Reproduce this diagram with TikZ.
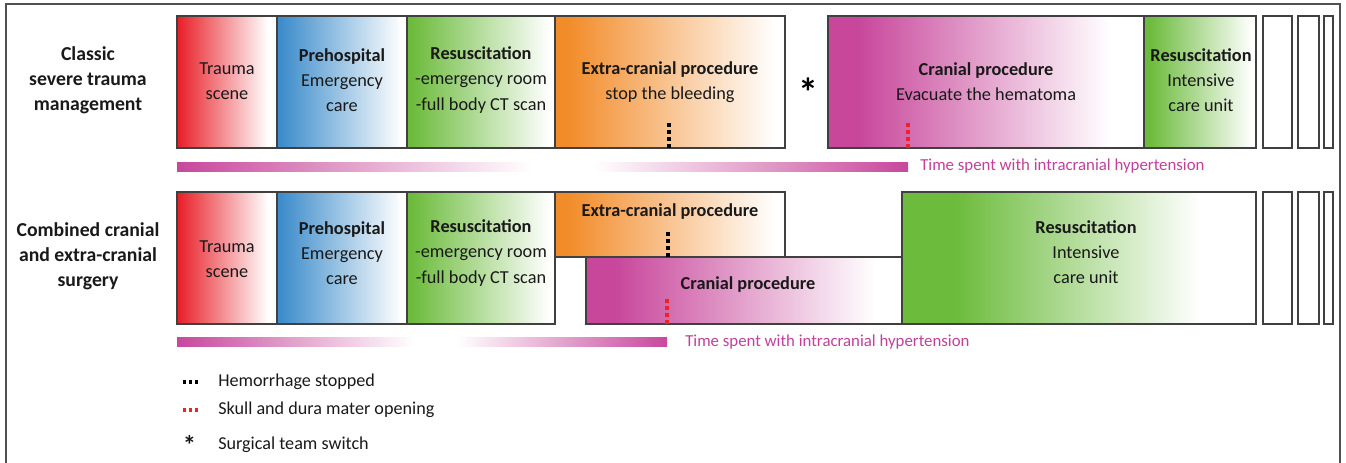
\documentclass[tikz,border=0pt]{standalone}
\usepackage{fontspec}
\setmainfont{Carlito}
\definecolor{cred}{HTML}{E8232B}
\definecolor{cblue}{HTML}{3E8DCB}
\definecolor{cgreen}{HTML}{6CBB3C}
\definecolor{corange}{HTML}{F28C2A}
\definecolor{cmag}{HTML}{C8479B}
\definecolor{ctext}{HTML}{C2409A}
\definecolor{cframe}{HTML}{505050}
\definecolor{cbox}{HTML}{404040}
\definecolor{cdotred}{HTML}{EE2228}
\newcommand\gradbox[7]{%
  \fill[#5] (#1,#2) rectangle ({#6+0.6},#4);
  \shade[left color=#5, right color=white] (#6,#2) rectangle (#7,#4);
  \draw[boxline] (#1,#2) rectangle (#3,#4);}
\begin{document}
\begin{tikzpicture}[x=0.75pt,y=-0.75pt,
  boxline/.style={draw=cbox, line width=1.1pt},
  txt/.style={align=center, inner sep=0pt, text=black!90, font=\fontsize{13.7}{18.8}\selectfont},
  side/.style={txt, font=\fontsize{14.8}{18.8}\selectfont\bfseries},
  timetxt/.style={anchor=west, inner sep=0pt, text=ctext, font=\fontsize{12.6}{15}\selectfont},
  legtxt/.style={anchor=west, inner sep=0pt, text=black!90, font=\fontsize{13.6}{16}\selectfont},
  dotline/.style={line width=3pt, dash pattern=on 3pt off 2.25pt},
  legdot/.style={line width=2.6pt, dash pattern=on 2.6pt off 1.9pt},
  star/.style={inner sep=0pt, anchor=base, font=\fontsize{30}{30}\selectfont\bfseries}]
\useasboundingbox (0,0) rectangle (1346,463);
% outer frame
\draw[cframe, line width=0.8pt] (6,463) -- (6,4) -- (1340,4) -- (1340,463);

% ---------- Row 1 ----------
\gradbox{177}{16}{277}{148}{cred}{179}{268}
\gradbox{277}{16}{407}{148}{cblue}{281}{402}
\gradbox{407}{16}{555}{148}{cgreen}{411}{550}
\gradbox{555}{16}{785}{148}{corange}{568}{775}
\gradbox{828}{16}{1144}{148}{cmag}{858}{1110}
\gradbox{1144}{16}{1256}{148}{cgreen}{1149}{1252}
\draw[boxline] (1263,16) rectangle (1292,148);
\draw[boxline] (1298,16) rectangle (1319,148);
\draw[boxline] (1324,16) rectangle (1333,148);

\node[side] (l1) at (88,80) {Classic\\severe trauma\\management};
\node[txt] (a1) at (227,81) {Trauma\\scene};
\node[txt] (b1) at (342,80) {\textbf{Prehospital}\\Emergency\\care};
\node[txt] (c1) at (481,80) {\textbf{Resuscitation}\\-emergency room\\-full body CT scan};
\node[txt] (d1) at (670,82) {\textbf{Extra-cranial procedure}\\stop the bleeding};
\node[star] (s1) at (808,107) {*};
\node[txt] (e1) at (986,82) {\textbf{Cranial procedure}\\Evacuate the hematoma};
\node[txt] (f1) at (1201,80) {\textbf{Resuscitation}\\Intensive\\care unit};
\draw[dotline, black] (669,148) -- (669,122);
\draw[dotline, cdotred] (908,148) -- (908,122);

% bar 1
\shade[left color=cmag, right color=white] (177,163) rectangle (531,172);
\shade[left color=white, right color=cmag] (594,163) rectangle (908,172);
\node[timetxt] (t1) at (920,166) {Time spent with intracranial hypertension};

% ---------- Row 2 ----------
\gradbox{177}{192}{277}{324}{cred}{179}{268}
\gradbox{277}{192}{407}{324}{cblue}{281}{402}
\gradbox{407}{192}{555}{324}{cgreen}{411}{550}
\gradbox{555}{192}{785}{257}{corange}{568}{775}
\gradbox{586}{257}{902}{324}{cmag}{615}{875}
\gradbox{902}{192}{1256}{324}{cgreen}{955}{1200}
\draw[boxline] (1263,192) rectangle (1292,324);
\draw[boxline] (1298,192) rectangle (1319,324);
\draw[boxline] (1324,192) rectangle (1333,324);

\node[side] (l2) at (88,256) {Combined cranial\\and extra-cranial\\surgery};
\node[txt] (a2) at (227,259) {Trauma\\scene};
\node[txt] (b2) at (342,253) {\textbf{Prehospital}\\Emergency\\care};
\node[txt] (c2) at (481,253) {\textbf{Resuscitation}\\-emergency room\\-full body CT scan};
\node[txt] (d2) at (670,212) {\textbf{Extra-cranial procedure}};
\node[txt] (e2) at (748,285) {\textbf{Cranial procedure}};
\node[txt] (f2) at (1086,252) {\textbf{Resuscitation}\\Intensive\\care unit};
\draw[dotline, black] (668,257) -- (668,231);
\draw[dotline, cdotred] (667,324) -- (667,298);

% bar 2
\shade[left color=cmag, right color=white] (177,338) rectangle (414,347);
\shade[left color=white, right color=cmag] (457,338) rectangle (667,347);
\node[timetxt] (t2) at (685,342) {Time spent with intracranial hypertension};

% ---------- Legend ----------
\draw[legdot, black] (183,382) -- (198.5,382);
\draw[legdot, cdotred] (183,410) -- (198.5,410);
\node[legtxt] (g1) at (218,382) {Hemorrhage stopped};
\node[legtxt] (g2) at (218,410) {Skull and dura mater opening};
\node[legtxt, anchor=base west] (g3) at (218,449.5) {\llap{\raisebox{-0.28em}{\fontsize{20}{20}\selectfont\bfseries *}\hspace{16.5pt}}Surgical team switch};
\end{tikzpicture}
\end{document}
